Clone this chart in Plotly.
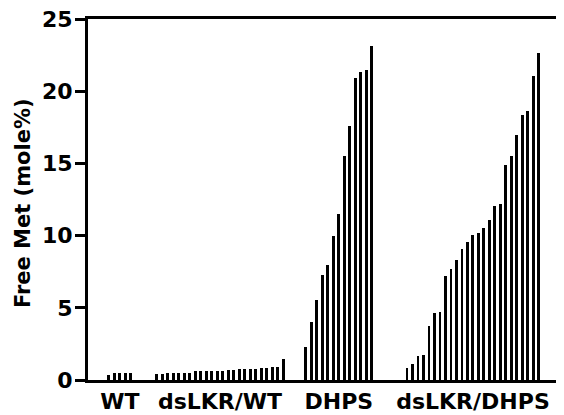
import plotly.graph_objects as go

# ---- data ----
groups = ["WT", "dsLKR/WT", "DHPS", "dsLKR/DHPS"]
wt = [0.35, 0.5, 0.5, 0.5, 0.5]
dslkr_wt = [0.45, 0.45, 0.46, 0.46, 0.47, 0.47, 0.48,
            0.60, 0.60, 0.61, 0.61, 0.62, 0.62,
            0.72, 0.72, 0.73, 0.73, 0.74, 0.75,
            0.85, 0.86, 0.87, 0.88, 1.48]
dhps = [2.26, 4.03, 5.54, 7.27, 7.96, 9.97, 11.47, 15.5, 17.6,
        20.9, 21.3, 21.5, 23.1]
dslkr_dhps = [0.85, 1.11, 1.66, 1.73, 3.76, 4.61, 4.73, 7.2, 7.66, 8.3,
              9.04, 9.55, 10.03, 10.2, 10.54, 11.07, 12.04, 12.18, 14.88,
              15.5, 16.98, 18.38, 18.6, 21.04, 22.65]
y_ticks = [0, 5, 10, 15, 20, 25]
y_title = "Free Met (mole%)"

series = [wt, dslkr_wt, dhps, dslkr_dhps]

# ---- layout: bar slots along x ----
group_start = [3.8, 12.5, 39.6, 58.0]   # slot index of first bar in each group
x_range = [0, 86.55]

xs, ys, centers = [], [], []
for start, vals in zip(group_start, series):
    pos = [start + i for i in range(len(vals))]
    xs += pos
    ys += vals
    centers.append((pos[0] + pos[-1]) / 2)

fig = go.Figure(go.Bar(
    x=xs, y=ys, width=0.54,
    marker=dict(color="black", line=dict(width=0)),
))

font_family = "DejaVu Sans"
# page body has an 8px default margin, so the figure is 8px smaller
fig.update_layout(
    width=556, height=407,
    margin=dict(l=80, r=0, t=11, b=35),
    paper_bgcolor="white", plot_bgcolor="white",
    showlegend=False,
    font=dict(family=font_family, color="black"),
    bargap=0,
)
fig.update_xaxes(
    range=x_range, showgrid=False, zeroline=False,
    showline=True, linecolor="black", linewidth=3, mirror=True,
    ticks="", tickvals=centers, ticktext=groups,
    tickfont=dict(family=font_family, size=22, color="black", weight="bold"),
    automargin=False,
)
fig.update_yaxes(
    range=[0, 25], tickvals=y_ticks, showgrid=False, zeroline=False,
    showline=True, linecolor="black", linewidth=3,
    ticks="outside", ticklen=10, tickwidth=3, tickcolor="black",
    ticklabelstandoff=-2, ticklabeloverflow="allow",
    tickfont=dict(family=font_family, size=22, color="black", weight="bold"),
    automargin=False,
)
fig.add_annotation(
    text=y_title, textangle=-90, showarrow=False,
    xref="paper", yref="paper", x=0, y=0.49,
    xanchor="center", yanchor="middle", xshift=-65,
    font=dict(family=font_family, size=21, color="black", weight="bold"),
)

fig.write_html("out.html")
